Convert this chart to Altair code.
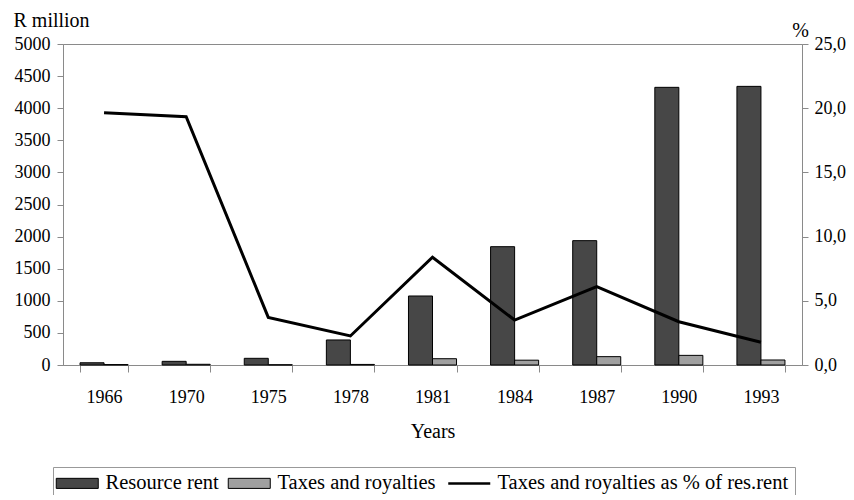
import altair as alt
import pandas as pd

years = ["1966", "1970", "1975", "1978", "1981", "1984", "1987", "1990", "1993"]
resource_rent = [35, 57, 104, 390, 1075, 1843, 1937, 4325, 4340]
taxes_royalties = [7, 11, 4, 9, 98, 75, 130, 150, 78]
taxes_pct = [19.65, 19.34, 3.71, 2.26, 8.39, 3.5, 6.1, 3.37, 1.77]
series = ["Resource rent", "Taxes and royalties", "Taxes and royalties as % of res.rent"]
colors = ["#474747", "#a0a0a0", "#000000"]
left_ticks = list(range(0, 5001, 500))
right_ticks = [0, 5, 10, 15, 20, 25]

FONT = "Liberation Serif"

bars_df = pd.DataFrame({
    "year": years * 2,
    "series": [series[0]] * len(years) + [series[1]] * len(years),
    "value": resource_rent + taxes_royalties,
})
line_df = pd.DataFrame({"year": years, "pct": taxes_pct})

RECT = "M-1,-0.24H1V0.24H-1Z"
LINE = "M-1,0H1"
is_line = "datum.value === '%s'" % series[2]

x_enc = alt.X(
    "year:N",
    sort=years,
    scale=alt.Scale(paddingInner=0.415, paddingOuter=0.2075),
    axis=alt.Axis(
        title="Years", tickBand="extent", labelAngle=0, tickSize=7,
        labelPadding=30, labelBaseline="alphabetic",
        titleY=72, titleBaseline="alphabetic",
    ),
)

legend = alt.Legend(
    title=None, orient="none", legendX=-10, legendY=423,
    direction="horizontal", columns=3,
    symbolType={"expr": "%s ? '%s' : '%s'" % (is_line, LINE, RECT)},
    symbolSize=1764, symbolStrokeColor="black", symbolOffset=8,
    symbolStrokeWidth={"expr": "%s ? 2.5 : 1" % is_line}, symbolOpacity=1,
    labelFont=FONT, labelFontSize=20.5, labelColor="black", labelOffset=18,
    labelLimit=500, columnPadding=7,
    strokeColor="#999", padding=6, fillColor="white",
)

bars = alt.Chart(bars_df).mark_bar(stroke="black", strokeWidth=1).encode(
    x=x_enc,
    xOffset=alt.XOffset("series:N", sort=series[:2],
                        scale=alt.Scale(domain=series[:2], paddingInner=0, paddingOuter=0)),
    y=alt.Y(
        "value:Q",
        scale=alt.Scale(domain=[0, 5000], nice=False),
        axis=alt.Axis(
            title="R million", values=left_ticks, format="d", tickSize=6, labelPadding=7,
            titleAngle=0, titleX=-50, titleY=-18, titleAlign="left",
            titleBaseline="alphabetic", orient="left",
        ),
    ),
    color=alt.Color("series:N", scale=alt.Scale(domain=series, range=colors), legend=legend),
)

line = alt.Chart(line_df).mark_line(color="black", strokeWidth=3).encode(
    x=x_enc,
    y=alt.Y(
        "pct:Q",
        scale=alt.Scale(domain=[0, 25], nice=False),
        axis=alt.Axis(
            title="%", values=right_ticks, orient="right", tickSize=6, labelPadding=6,
            labelExpr="replace(format(datum.value, '.1f'), '.', ',')",
            titleAngle=0, titleX=-2, titleY=-8, titleAlign="center",
            titleBaseline="alphabetic",
        ),
    ),
)

chart = alt.layer(bars, line).resolve_scale(y="independent").properties(
    width=739, height=321,
    autosize=alt.AutoSizeParams(type="none"),
    padding={"left": 55, "top": 36, "right": 44, "bottom": 130},
    background="white",
).configure_view(
    stroke="#8a8a8a", strokeWidth=1
).configure_axis(
    labelFont=FONT, labelFontSize=18, labelColor="black",
    titleFont=FONT, titleFontSize=20, titleFontWeight="normal", titleColor="black",
    domainColor="#8a8a8a", tickColor="#8a8a8a", grid=False,
)

chart.save("out.html", embed_options={"renderer": "svg", "actions": False})
